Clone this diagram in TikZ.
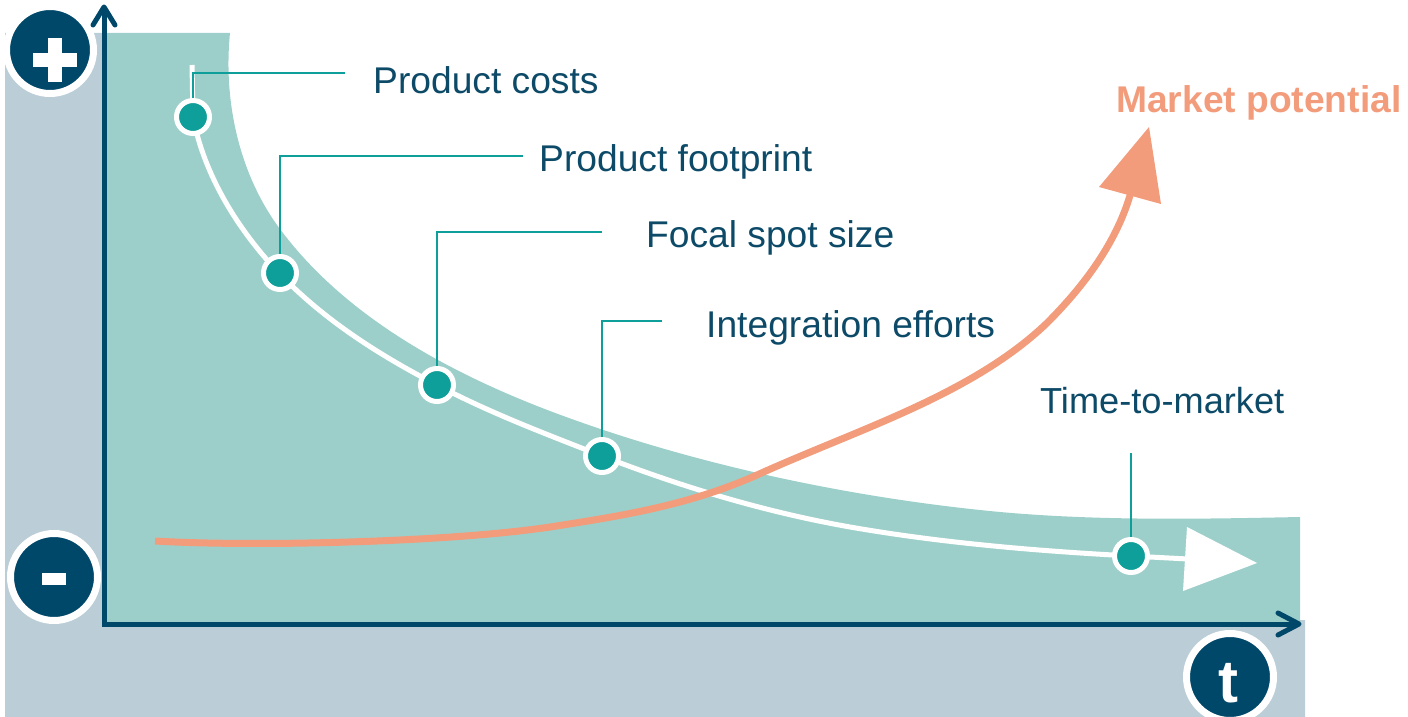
\documentclass[tikz,border=0pt]{standalone}
\usepackage{fontspec}
\setmainfont{Liberation Sans}
\definecolor{greyblue}{HTML}{BBCDD6}
\definecolor{tealbg}{HTML}{9DCFCA}
\definecolor{navy}{HTML}{00486A}
\definecolor{tealdot}{HTML}{0E9F9A}
\definecolor{salmon}{HTML}{F29C7C}
\definecolor{textblue}{HTML}{0C4A68}
\begin{document}
\begin{tikzpicture}[x=1pt,y=-1pt,
  dotnode/.style={circle,fill=tealdot,draw=white,line width=5pt,minimum size=33pt,inner sep=0pt},
  signcircle/.style={circle,fill=navy,draw=white,line width=7pt,minimum size=87pt,inner sep=0pt},
  leader/.style={draw=tealdot,line width=2.8pt},
  axisline/.style={draw=navy,line width=5pt},
  axishead/.style={draw=navy,line width=5pt,line cap=round,line join=round},
  lbl/.style={anchor=base west,inner sep=0pt,text=textblue,font=\fontsize{37.2}{40}\selectfont},
]
\useasboundingbox (0,0) rectangle (1408,717);
% background areas
\fill[greyblue] (5,33) -- (104,33) -- (104,620) -- (1305,620) -- (1305,717) -- (5,717) -- cycle;
\fill[tealbg] (104,33) -- (230,33)
  .. controls (223,103) and (240,178) .. (283,233)
  .. controls (348,318) and (450,373) .. (550,411)
  .. controls (690,464) and (851,498) .. (1000,512)
  .. controls (1100,521) and (1200,519) .. (1300,517)
  -- (1300,624) -- (104,624) -- cycle;
% white trend curve
\draw[white,line width=5pt] (192,65) -- (193,117)
  .. controls (204,175) and (238,230) .. (279,273)
  .. controls (324,320) and (379,355) .. (437,385)
  .. controls (490,413) and (546,434) .. (602,456)
  .. controls (682,487) and (765,512) .. (850,527)
  .. controls (942,543) and (1037,551) .. (1131,556)
  -- (1188,559);
\fill[white] (1187,527) -- (1257,563) -- (1183,591) -- cycle;
% market potential curve
\draw[salmon,line width=7pt] (155,541)
  .. controls (255,547) and (450,542) .. (550,527)
  .. controls (620,516) and (687,506) .. (757,475)
  .. controls (856,430) and (972,395) .. (1047,323)
  .. controls (1084,286) and (1117,242) .. (1131,192);
\fill[salmon] (1099,187) -- (1149,127) -- (1161,204) -- cycle;
% marker positions
\coordinate (p1) at (193,117);
\coordinate (p2) at (280,273);
\coordinate (p3) at (437,385);
\coordinate (p4) at (602,456);
\coordinate (p5) at (1131,556);
\coordinate (c1) at (345,73);
\coordinate (c2) at (523,156);
\coordinate (c3) at (602,232);
\coordinate (c4) at (662,321);
\coordinate (c5) at (1131,453);
% leaders
\draw[leader] (c1) -| (p1);
\draw[leader] (c2) -| (p2);
\draw[leader] (c3) -| (p3);
\draw[leader] (c4) -| (p4);
\draw[leader] (c5) -- (p5);
% markers
\node[dotnode] (m1) at (p1) {};
\node[dotnode] (m2) at (p2) {};
\node[dotnode] (m3) at (p3) {};
\node[dotnode] (m4) at (p4) {};
\node[dotnode] (m5) at (p5) {};
% axes
\draw[axisline] (104,8) -- (104,624) -- (1298,624);
\draw[axishead] (93,25) -- (104,7) -- (115,25);
\draw[axishead] (1278,613) -- (1299,624) -- (1278,635);
% sign circles
\node[signcircle] (plus) at (50,50) {};
\fill[white] (33,53) rectangle (77,67);
\fill[white] (48,38) rectangle (62,82);
\node[signcircle] (minus) at (54,577) {};
\fill[white] (42,573) rectangle (66,585);
\node[signcircle] (tcirc) at (1230,677) {};
\node[anchor=base,inner sep=0pt,text=white,font=\bfseries\fontsize{60}{64}\selectfont] (tlbl) at (1228,702) {t};
% labels
\node[lbl] (l1) at (373,93) {Product costs};
\node[lbl] (l2) at (539,171) {Product footprint};
\node[lbl] (l3) at (646,247) {Focal spot size};
\node[lbl] (l4) at (706,337) {Integration efforts};
\node[lbl,font=\fontsize{36.2}{40}\selectfont] (l5) at (1040,413) {Time-to-market};
\node[anchor=base west,inner sep=0pt,text=salmon,font=\bfseries\fontsize{37.2}{40}\selectfont] (mp) at (1116,112) {Market potential};
\end{tikzpicture}
\end{document}
